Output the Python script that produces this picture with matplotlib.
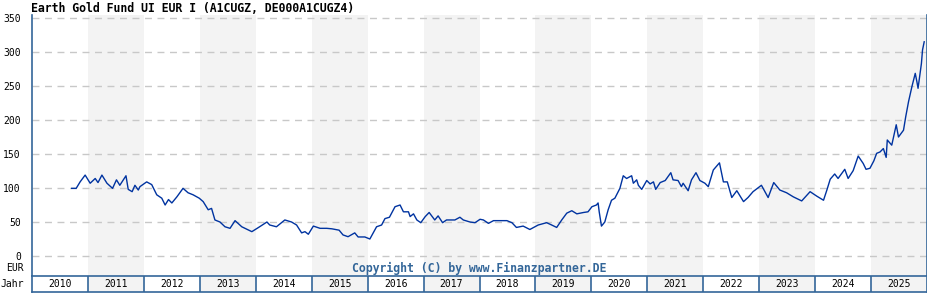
import matplotlib
matplotlib.use("Agg")
import matplotlib.pyplot as plt

title = "Earth Gold Fund UI EUR I (A1CUGZ, DE000A1CUGZ4)"
copyright_text = "Copyright (C) by www.Finanzpartner.DE"
years_axis = list(range(2010, 2026))
y_ticks = [0, 50, 100, 150, 200, 250, 300, 350]

dates = [2010.71, 2010.79, 2010.86, 2010.95, 2011.04, 2011.13, 2011.18, 2011.25, 2011.34, 2011.44,
         2011.51, 2011.57, 2011.68, 2011.72, 2011.79, 2011.84, 2011.90, 2011.93, 2012.05, 2012.14,
         2012.23, 2012.32, 2012.38, 2012.44, 2012.50, 2012.59, 2012.70, 2012.79, 2012.88, 2012.99,
         2013.06, 2013.15, 2013.21, 2013.27, 2013.36, 2013.45, 2013.54, 2013.63, 2013.75, 2013.93,
         2014.05, 2014.20, 2014.25, 2014.37, 2014.52, 2014.64, 2014.73, 2014.82, 2014.88, 2014.94,
         2015.03, 2015.15, 2015.27, 2015.36, 2015.49, 2015.56, 2015.65, 2015.77, 2015.83, 2015.95,
         2016.04, 2016.16, 2016.25, 2016.31, 2016.39, 2016.49, 2016.58, 2016.64, 2016.73, 2016.76,
         2016.82, 2016.88, 2016.95, 2017.03, 2017.10, 2017.20, 2017.26, 2017.34, 2017.41, 2017.56,
         2017.65, 2017.71, 2017.83, 2017.92, 2018.01, 2018.07, 2018.16, 2018.25, 2018.49, 2018.58,
         2018.66, 2018.78, 2018.90, 2019.05, 2019.20, 2019.29, 2019.38, 2019.47, 2019.56, 2019.65,
         2019.74, 2019.86, 2019.94, 2020.01, 2020.09, 2020.12, 2020.14, 2020.18, 2020.24, 2020.30,
         2020.36, 2020.42, 2020.51, 2020.57, 2020.63, 2020.72, 2020.75, 2020.81, 2020.84, 2020.90,
         2020.99, 2021.05, 2021.11, 2021.15, 2021.23, 2021.32, 2021.42, 2021.46, 2021.55, 2021.61,
         2021.64, 2021.73, 2021.79, 2021.87, 2021.94, 2022.03, 2022.09, 2022.18, 2022.29, 2022.36,
         2022.43, 2022.51, 2022.60, 2022.72, 2022.80, 2022.89, 2023.04, 2023.16, 2023.26, 2023.37,
         2023.49, 2023.61, 2023.76, 2023.91, 2024.03, 2024.15, 2024.21, 2024.27, 2024.35, 2024.41,
         2024.53, 2024.59, 2024.68, 2024.77, 2024.86, 2024.91, 2024.98, 2025.05, 2025.10, 2025.16,
         2025.22, 2025.27, 2025.29, 2025.37, 2025.45, 2025.49, 2025.58, 2025.62, 2025.67, 2025.73,
         2025.79, 2025.82, 2025.84, 2025.90, 2025.92, 2025.95]

prices = [99.5, 99.5, 109, 119, 107, 114, 108, 119, 107, 99.5,
          112, 104, 118, 98, 94.6, 104, 97, 102, 109, 105,
          90, 85, 75, 83, 78, 87, 99.5, 93, 90, 85,
          80, 68, 70, 53, 50, 43, 40.7, 52, 43, 35.8,
          42, 50, 45.6, 43, 53, 50, 45.6, 34, 35.8, 32,
          44, 40.7, 40.7, 40, 38, 31, 28.4, 34, 28, 28,
          25, 43, 45.6, 55, 57, 72.5, 75, 65, 65, 58,
          62, 53, 49, 58, 64, 53, 59, 49, 53, 53,
          57, 53, 50, 49, 54, 53, 48, 52, 52, 49,
          42, 44, 39, 45.6, 49, 45.6, 42, 53, 63, 66.6,
          62, 64, 65, 72.5, 75, 78, 65, 44, 50, 68,
          82, 85, 99.5, 118, 114, 118, 107, 112, 104, 98,
          111, 106, 109, 98, 108, 111, 122.5, 112, 111, 102,
          107, 96, 112, 122.5, 111, 107, 102, 126.5, 137, 109,
          109, 86, 96, 80, 86, 94.6, 104, 86, 108, 97,
          93, 87, 81, 94.6, 88, 82, 97, 113, 120.6, 114,
          127.5, 114, 125.5, 147, 136, 127.5, 129, 140, 151, 153,
          158, 145, 170.6, 163, 193, 175, 185, 205, 227, 249,
          268.6, 256, 246.6, 283, 303, 315]

W, H = 928, 300
fig = plt.figure(figsize=(W / 100, H / 100), dpi=100)
fig.patch.set_facecolor("white")

mono = "DejaVu Sans Mono"
border = "#336699"
band = "#f3f3f3"

L, R, T, B = 32, 927, 15, 276
ax = fig.add_axes([L / W, 1 - B / H, (R - L) / W, (B - T) / H])
ax.set_xlim(2010, 2026)
ax.set_ylim(-29.4, 354.4)
for y in years_axis:
    if y % 2 == 1:
        ax.axvspan(y, y + 1, color=band, zorder=0, lw=0)
ax.set_yticks(y_ticks)
ax.set_yticklabels([str(t) for t in y_ticks], family=mono, fontsize=7)
ax.tick_params(axis="y", length=0, pad=8)
ax.set_xticks([])
ax.yaxis.grid(True, color="#c8c8c8", linestyle=(0, (5, 4)), lw=1)
ax.set_axisbelow(True)
for s in ["top", "bottom"]:
    ax.spines[s].set_visible(False)
for s in ["left", "right"]:
    ax.spines[s].set_color(border)
    ax.spines[s].set_linewidth(1.2)

ax.plot(dates, prices, color="#0033a0", lw=1.0, zorder=3)

ax.text(0.5, 8 / (B - T), copyright_text, transform=ax.transAxes, ha="center", va="center",
        family=mono, fontweight="bold", fontsize=8.3, color="#336699")

fig.text((L - 8) / W, 1 - 268 / H, "EUR", ha="right", va="center", family=mono, fontsize=7)
fig.text((L - 8) / W, 1 - 284 / H, "Jahr", ha="right", va="center", family=mono, fontsize=7)
fig.text((L - 1) / W, 1 - 8.5 / H, title, ha="left", va="center", family=mono,
         fontweight="bold", fontsize=8.3)

# year row
ay = fig.add_axes([L / W, 1 - 292 / H, (R - L) / W, 16 / H])
ay.set_xlim(2010, 2026)
ay.set_ylim(0, 1)
ay.set_xticks([])
ay.set_yticks([])
for y in years_axis:
    if y % 2 == 1:
        ay.axvspan(y, y + 1, color=band, zorder=0, lw=0)
    if y > 2010:
        ay.axvline(y, color=border, lw=1.2)
    ay.text(y + 0.5, 0.5, str(y), ha="center", va="center", family=mono, fontsize=7)
for s in ay.spines.values():
    s.set_color(border)
    s.set_linewidth(1.2)

fig.savefig("out.png", dpi=100, facecolor="white")
